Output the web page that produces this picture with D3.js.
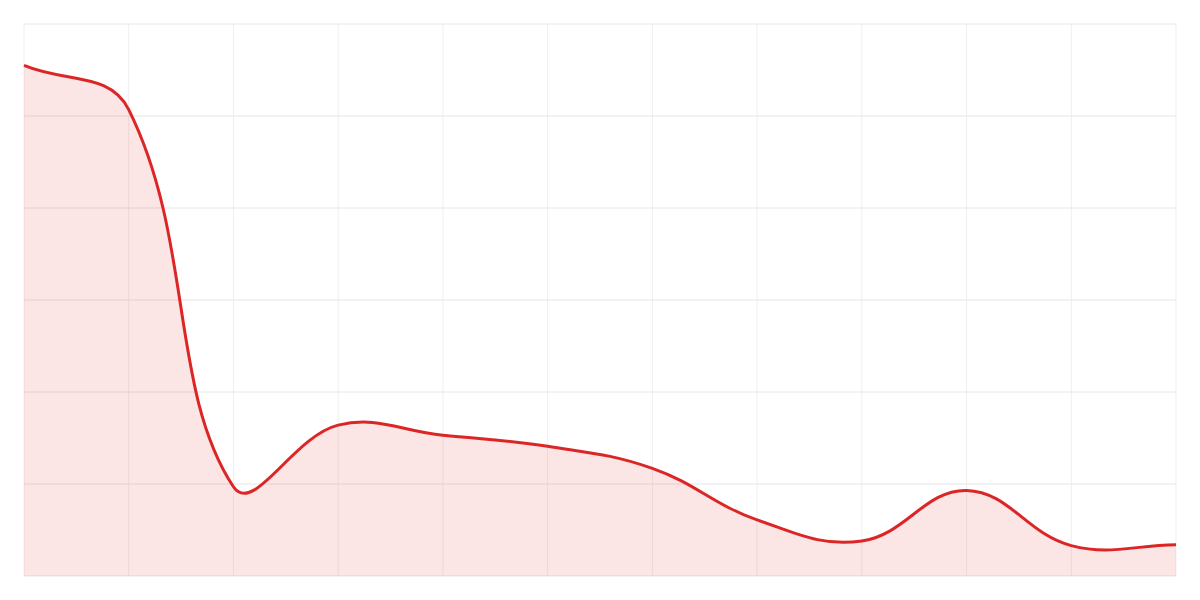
<!DOCTYPE html>
<html>
<head>
<meta charset="utf-8">
<script src="https://cdn.jsdelivr.net/npm/d3@7"></script>
<style>
  body { margin: 0; background: #fff; }
  svg { display: block; }
</style>
</head>
<body>
<div id="chart"></div>
<script>
var width = 1200;
var height = 600;
var margin = {top: 24, right: 24, bottom: 24, left: 24};
var tension = 0.4;

// one value per vertical grid line
var points = [0, 1, 2, 3, 4, 5, 6, 7, 8, 9, 10, 11];
var values = [5.55, 5.07, 0.97, 1.64, 1.53, 1.41, 1.17, 0.61, 0.38, 0.93, 0.33, 0.34];
var yTicks = [0, 1, 2, 3, 4, 5, 6];

var svg = d3.select("#chart")
  .append("svg")
  .attr("width", width)
  .attr("height", height);

var x = d3.scaleLinear()
  .domain([0, points.length - 1])
  .range([margin.left, width - margin.right]);

var y = d3.scaleLinear()
  .domain([0, 6])
  .range([height - margin.bottom, margin.top]);

// grid
svg.append("g")
  .selectAll("line")
  .data(points)
  .enter().append("line")
  .attr("x1", function(d) { return x(d); })
  .attr("x2", function(d) { return x(d); })
  .attr("y1", margin.top)
  .attr("y2", height - margin.bottom)
  .style("stroke", "#efefef")
  .style("stroke-width", 1);

svg.append("g")
  .selectAll("line")
  .data(yTicks)
  .enter().append("line")
  .attr("x1", margin.left)
  .attr("x2", width - margin.right)
  .attr("y1", function(d) { return y(d); })
  .attr("y2", function(d) { return y(d); })
  .style("stroke", "#e6e6e6")
  .style("stroke-width", 1);

// distance weighted spline (control points from neighbours)
function splinePath(pts, ctx) {
  var n = pts.length;
  var cps = [];
  for (var i = 0; i < n; i++) {
    var p0 = pts[i - 1] || pts[i];
    var p1 = pts[i];
    var p2 = pts[i + 1] || pts[i];
    var d01 = Math.hypot(p1[0] - p0[0], p1[1] - p0[1]);
    var d12 = Math.hypot(p2[0] - p1[0], p2[1] - p1[1]);
    var s01 = d01 / (d01 + d12) || 0;
    var s12 = d12 / (d01 + d12) || 0;
    var fa = tension * s01, fb = tension * s12;
    var top = margin.top, bottom = height - margin.bottom;
    cps.push({
      prev: [p1[0] - fa * (p2[0] - p0[0]), Math.max(top, Math.min(bottom, p1[1] - fa * (p2[1] - p0[1])))],
      next: [p1[0] + fb * (p2[0] - p0[0]), Math.max(top, Math.min(bottom, p1[1] + fb * (p2[1] - p0[1])))]
    });
  }
  ctx.moveTo(pts[0][0], pts[0][1]);
  for (var j = 1; j < n; j++) {
    var a = cps[j - 1].next, b = cps[j].prev;
    ctx.bezierCurveTo(a[0], a[1], b[0], b[1], pts[j][0], pts[j][1]);
  }
  return ctx;
}

var pts = values.map(function(d, i) { return [x(points[i]), y(d)]; });

var areaPath = splinePath(pts, d3.path());
areaPath.lineTo(x(points[points.length - 1]), y(0));
areaPath.lineTo(x(points[0]), y(0));
areaPath.closePath();

svg.append("path")
  .attr("d", areaPath.toString())
  .style("fill", "rgba(220, 38, 38, 0.12)");

svg.append("path")
  .attr("d", splinePath(pts, d3.path()).toString())
  .style("fill", "none")
  .style("stroke", "#dc2626")
  .style("stroke-width", 3);
</script>
</body>
</html>
